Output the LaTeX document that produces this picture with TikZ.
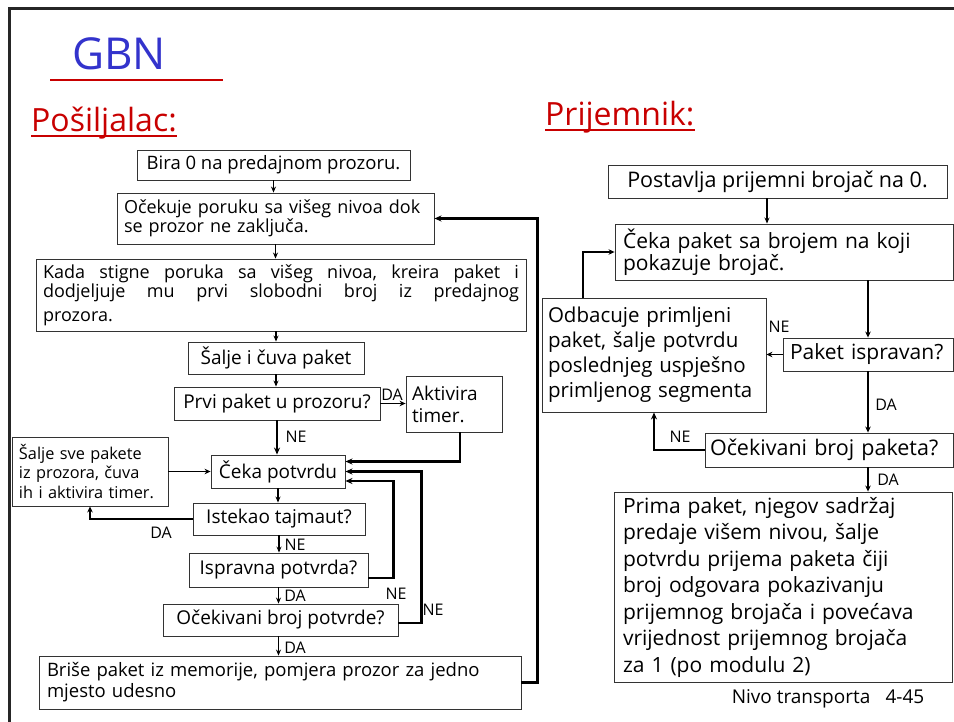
\documentclass[tikz,border=0pt]{standalone}
\usepackage{fontspec}
\setmainfont{Open Sans}
\usetikzlibrary{arrows.meta,calc}
\definecolor{titleblue}{RGB}{51,51,204}
\definecolor{headred}{RGB}{200,0,0}
\newcommand{\fullline}[1]{\leavevmode\hbox to 476pt{#1}}

\begin{document}
\begin{tikzpicture}[x=1pt,y=-1pt,
  box/.style={draw=black!80,line width=0.9pt,inner xsep=6pt,inner ysep=2pt,
    font=\fontsize{19}{20}\selectfont},
  rbox/.style={box,font=\fontsize{21}{21}\selectfont,inner xsep=8pt},
  arr/.style={line width=1.3pt,-{Stealth[length=6pt,width=5pt]}},
  marr/.style={line width=1.9pt,-{Stealth[length=6pt,width=5.5pt]}},
  tarr/.style={line width=2.6pt,-{Stealth[length=7pt,width=6pt]}},
  tag/.style={font=\fontsize{16}{16}\selectfont,inner sep=1pt},
]
\useasboundingbox (0,0) rectangle (954,722);

% page frame
\draw[line width=3pt,black!85] (9,740) -- (9,9) -- (970,9);

% headings
\node[font=\fontsize{44}{44}\selectfont,text=titleblue,inner sep=0pt] (gbn) at (119,54) {GBN};
\draw[headred,line width=1.6pt] (50,80) -- (223,80);
\node[font=\fontsize{32}{32}\selectfont,text=headred,inner sep=0pt,anchor=base west] (snd) at (31,132) {Pošiljalac:};
\draw[headred,line width=2.4pt] ([yshift=-4]snd.base west) -- ([yshift=-4]snd.base east);
\node[font=\fontsize{32}{32}\selectfont,text=headred,inner sep=0pt,anchor=base west] (rcv) at (545,126) {Prijemnik:};
\draw[headred,line width=2.4pt] ([yshift=-4]rcv.base west) -- ([yshift=-4]rcv.base east);

% ---------- sender ----------
\node[box,minimum width=273pt,minimum height=30pt,font=\fontsize{18.5}{19}\selectfont] (bira) at (273.5,165) {Bira 0 na predajnom prozoru.};
\node[box,minimum width=317pt,minimum height=51pt,text width=303pt,align=left,
  font=\fontsize{18}{18}\selectfont] (ocek) at (275.5,218.5)
  {Očekuje poruku sa višeg nivoa dok\\se prozor ne zaključa.};
\node[box,minimum width=490pt,minimum height=72pt,text width=476pt,align=left,
  font=\fontsize{18}{17}\selectfont] (kada) at (281,295)
  {\fullline{Kada\hfill stigne\hfill poruka\hfill sa\hfill višeg\hfill nivoa,\hfill kreira\hfill paket\hfill i}\\
   \fullline{dodjeljuje\hfill mu\hfill prvi\hfill slobodni\hfill broj\hfill iz\hfill predajnog}\\[7pt]
   prozora.};
\node[box,minimum width=176pt,minimum height=32pt] (salje) at (276,358) {Šalje i čuva paket};
\node[box,minimum width=206pt,minimum height=33pt] (prvi) at (277,403.5) {Prvi paket u prozoru?};
\node[box,minimum width=96pt,minimum height=56pt,text width=84pt,align=left,
  font=\fontsize{19}{22}\selectfont] (aktiv) at (454,404) {Aktivira\\timer.};
\node[box,minimum width=134pt,minimum height=33pt] (ceka) at (278,471.5) {Čeka potvrdu};
\node[box,minimum width=156pt,minimum height=69pt,text width=142pt,align=left,inner xsep=7pt,
  font=\fontsize{16.3}{19.5}\selectfont] (sve) at (90,471.5)
  {Šalje sve pakete\\iz prozora, čuva\\ih i aktivira timer.};
\node[box,minimum width=172pt,minimum height=32pt] (istek) at (279,519) {Istekao tajmaut?};
\node[box,minimum width=179pt,minimum height=34pt] (isprav) at (278.5,570) {Ispravna potvrda?};
\node[box,minimum width=235pt,minimum height=32pt] (ocpotv) at (280.5,620) {Očekivani broj potvrde?};
\node[box,minimum width=482pt,minimum height=53pt,text width=466pt,align=left,
  font=\fontsize{18.5}{21}\selectfont] (brise) at (280,682.5)
  {Briše paket iz memorije, pomjera prozor za jedno\\mjesto udesno};

\draw[arr] (bira.south) -- (bira.south |- ocek.north);
\draw[arr] (ocek.south) -- (ocek.south |- kada.north);
\draw[arr] (kada.south -| salje.north) -- (salje.north);
\draw[arr] (salje.south) -- (salje.south |- prvi.north);
\draw[marr] (prvi.east) -- (aktiv.west |- prvi.east);
\node[tag] (da1) at (392,395) {DA};
\draw[tarr] (prvi.south) -- (prvi.south |- ceka.north);
\node[tag] (ne1) at (296,437) {NE};
\draw[tarr] ([xshift=6]aktiv.south) |- ([yshift=10]ceka.east);
\draw[marr] (sve.east) -- (ceka.west);
\draw[arr] (ceka.south) -- (ceka.south |- istek.north);
\draw[marr] (istek.west) -| (sve.south);
\node[tag] (da2) at (161,533) {DA};
\draw[arr] (istek.south) -- (istek.south |- isprav.north);
\node[tag] (ne2) at (295,545) {NE};
\draw[tarr] ([yshift=-8]isprav.east) -| ([xshift=48,yshift=-9.5]ceka.east) -- ([yshift=-9.5]ceka.east);
\node[tag] (ne3) at (396,594) {NE};
\draw[arr] (isprav.south) -- (isprav.south |- ocpotv.north);
\node[tag] (da3) at (295,596) {DA};
\draw[tarr] ([yshift=-3]ocpotv.east) -| ([xshift=76]ceka.east) -- (ceka.east);
\node[tag] (ne4) at (433,610) {NE};
\draw[arr] (ocpotv.south -| isprav.south) -- (isprav.south |- brise.north);
\node[tag] (da4) at (295,648) {DA};
\draw[tarr] (brise.east) -- ++(16,0) |- (ocek.east);

% ---------- receiver ----------
\node[rbox,minimum width=339pt,minimum height=33pt,font=\fontsize{21.5}{22}\selectfont] (postav) at (777.5,181.5)
  {Postavlja prijemni brojač na 0.};
\node[rbox,minimum width=338pt,minimum height=56pt,text width=322pt,align=left] (cekap) at (784,252)
  {Čeka paket sa brojem na koji\\pokazuje brojač.};
\node[rbox,minimum width=224pt,minimum height=114pt,text width=212pt,align=left,inner xsep=6pt,
  font=\fontsize{20.5}{25}\selectfont] (odbac) at (654,355)
  {Odbacuje primljeni\\paket, šalje potvrdu\\poslednjeg uspješno\\primljenog segmenta};
\node[rbox,minimum width=170pt,minimum height=33pt,text width=156pt,align=left,inner xsep=7pt] (ispr) at (868,354.5) {Paket ispravan?};
\node[rbox,minimum width=248pt,minimum height=34pt,text width=238pt,align=left,inner xsep=5pt,
  font=\fontsize{21.5}{22}\selectfont] (ocbp) at (829,450) {Očekivani broj paketa?};
\node[rbox,minimum width=338pt,minimum height=190pt,text width=320pt,align=left,
  font=\fontsize{21}{26.5}\selectfont] (prima) at (783,587)
  {Prima paket, njegov sadržaj\\predaje višem nivou, šalje\\potvrdu prijema paketa čiji\\broj odgovara pokazivanju\\prijemnog brojača i povećava\\vrijednost prijemnog brojača\\za 1 (po modulu 2)};

\draw[arr] ([xshift=-10.5]postav.south) -- ([xshift=-10.5]postav.south |- cekap.north);
\draw[marr] (cekap.south -| ispr.north) -- (ispr.north);
\draw[marr] (ispr.west) -- (odbac.east |- ispr.west);
\node[tag] (ne5) at (779,327) {NE};
\draw[marr] (ispr.south) -- (ispr.south |- ocbp.north);
\node[tag] (da5) at (886,405) {DA};
\draw[tarr] (ocbp.west) -| (odbac.south);
\node[tag] (ne6) at (680,437) {NE};
\draw[marr] (ocbp.south -| ispr.south) -- (ispr.south |- prima.north);
\node[tag] (da6) at (888,480) {DA};
\draw[marr] ([xshift=-71]odbac.north) |- (cekap.west);

\node[font=\fontsize{19}{19}\selectfont] (foot) at (828,699) {Nivo transporta\hspace{0.8em}4-45};
\end{tikzpicture}
\end{document}
